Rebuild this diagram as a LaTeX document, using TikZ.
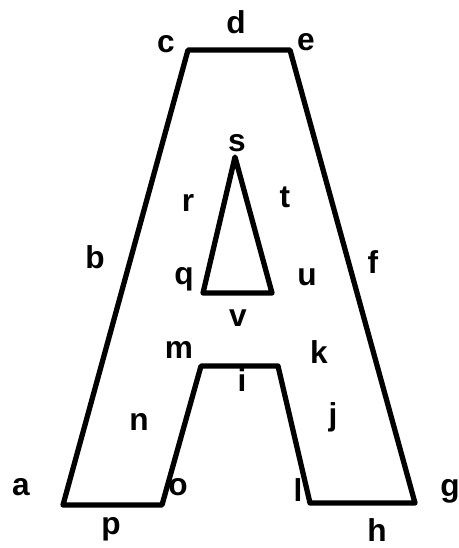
\documentclass[tikz,border=0pt]{standalone}
\usepackage{fontspec}
\setmainfont{Liberation Sans}
\tikzset{
  contorno/.style={line width=3pt,line join=round},
  lettera/.style={font=\fontsize{18}{20}\selectfont\bfseries,inner sep=0pt}
}
\begin{document}
\begin{tikzpicture}
        %fisso i margini
        \useasboundingbox (0,0) rectangle (9.18,10.96);
        %vertici esterni
        \coordinate (A1) at (1.26,0.86);
        \coordinate (A2) at (3.24,0.86);
        \coordinate (A3) at (4.02,3.64);
        \coordinate (A4) at (5.56,3.64);
        \coordinate (A5) at (6.20,0.90);
        \coordinate (A6) at (8.30,0.90);
        \coordinate (A7) at (5.80,9.96);
        \coordinate (A8) at (3.76,9.96);
        %vertici del triangolo
        \coordinate (T1) at (4.70,7.82);
        \coordinate (T2) at (4.06,5.10);
        \coordinate (T3) at (5.44,5.10);

        %disegno contorno della A
        \draw[contorno](A1)--(A2)--(A3)--(A4)--(A5)--(A6)--(A7)--(A8)--cycle;
        %disegno buco triangolare
        \draw[contorno](T1)--(T2)--(T3)--cycle;

        %lettere lato esterno
        \node[lettera] (a) at (0.42,1.22) {a};
        \node[lettera] (b) at (1.90,5.82) {b};
        \node[lettera] (c) at (3.32,10.08) {c};
        \node[lettera] (d) at (4.72,10.52) {d};
        \node[lettera] (e) at (6.12,10.12) {e};
        \node[lettera] (f) at (7.46,5.72) {f};
        \node[lettera] (g) at (9.00,1.14) {g};
        \node[lettera] (h) at (7.54,0.36) {h};
        %lettere lato interno
        \node[lettera] (i) at (4.84,3.36) {i};
        \node[lettera] (j) at (6.66,2.62) {j};
        \node[lettera] (k) at (6.38,3.92) {k};
        \node[lettera] (l) at (5.96,1.16) {l};
        \node[lettera] (m) at (3.58,3.96) {m};
        \node[lettera] (n) at (2.78,2.52) {n};
        \node[lettera] (o) at (3.56,1.22) {o};
        \node[lettera] (p) at (2.22,0.38) {p};
        %lettere del triangolo
        \node[lettera] (q) at (3.68,5.38) {q};
        \node[lettera] (r) at (3.76,6.90) {r};
        \node[lettera] (s) at (4.74,8.10) {s};
        \node[lettera] (t) at (5.70,7.02) {t};
        \node[lettera] (u) at (6.14,5.42) {u};
        \node[lettera] (v) at (4.76,4.60) {v};
\end{tikzpicture}
\end{document}
